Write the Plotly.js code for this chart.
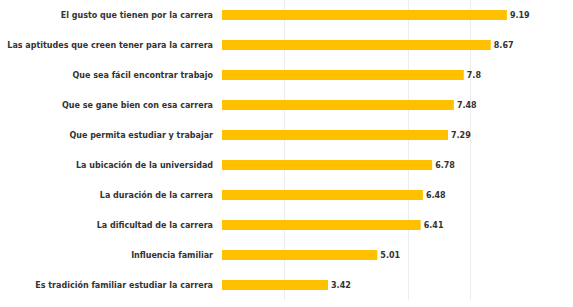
<!DOCTYPE html>
<html>
<head>
<meta charset="utf-8">
<script src="https://cdn.plot.ly/plotly-3.0.1.min.js"></script>
<style>html,body{margin:0;padding:0;background:#fff;}#chart{width:573px;height:307px;}</style>
</head>
<body>
<div id="chart"></div>
<script>
var categories = [
  "El gusto que tienen por la carrera",
  "Las aptitudes que creen tener para la carrera",
  "Que sea fácil encontrar trabajo",
  "Que se gane bien con esa carrera",
  "Que permita estudiar y trabajar",
  "La ubicación de la universidad",
  "La duración de la carrera",
  "La dificultad de la carrera",
  "Influencia familiar",
  "Es tradición familiar estudiar la carrera"
];
var values = [9.19, 8.67, 7.8, 7.48, 7.29, 6.78, 6.48, 6.41, 5.01, 3.42];
var valueLabels = ["9.19", "8.67", "7.8", "7.48", "7.29", "6.78", "6.48", "6.41", "5.01", "3.42"];
var gridVals = [2, 6, 8, 10];

var trace = {
  type: "bar",
  orientation: "h",
  x: values,
  y: categories,
  width: 0.34,
  marker: {color: "#FFC000"},
  text: valueLabels,
  texttemplate: "%{text}",
  textposition: "outside",
  cliponaxis: false,
  textfont: {family: "DejaVu Sans", size: 8, color: "#333333", weight: "bold"},
  hoverinfo: "none"
};

var layout = {
  width: 573,
  height: 307,
  margin: {l: 222, r: 41, t: 0, b: 7, pad: 0},
  paper_bgcolor: "#ffffff",
  plot_bgcolor: "#ffffff",
  showlegend: false,
  xaxis: {
    range: [0, 10],
    tickvals: gridVals,
    showticklabels: false,
    showgrid: true,
    gridcolor: "#ececec",
    gridwidth: 1,
    zeroline: false,
    showline: false,
    ticks: ""
  },
  yaxis: {
    type: "category",
    autorange: "reversed",
    showgrid: false,
    zeroline: false,
    showline: false,
    ticks: "",
    ticklabelstandoff: 8,
    tickfont: {family: "DejaVu Sans", size: 8, color: "#333333", weight: "bold"}
  }
};

Plotly.newPlot("chart", [trace], layout, {staticPlot: true, displayModeBar: false});
</script>
</body>
</html>
